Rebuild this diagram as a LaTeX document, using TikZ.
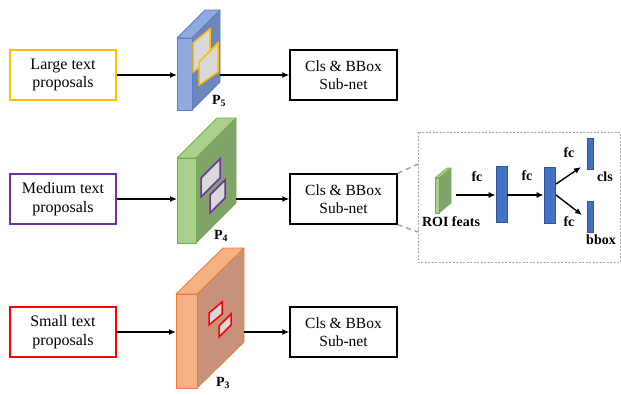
\documentclass[tikz,border=0pt]{standalone}
\usepackage{fontspec}
\setmainfont{Liberation Serif}
\usetikzlibrary{arrows.meta}
\definecolor{blueF}{HTML}{8FAADC}
\definecolor{blueS}{HTML}{6F86B8}
\definecolor{blueE}{HTML}{5B7FC7}
\definecolor{greenF}{HTML}{A9D18E}
\definecolor{greenS}{HTML}{80A46A}
\definecolor{greenE}{HTML}{70AD47}
\definecolor{orangeF}{HTML}{F4B183}
\definecolor{orangeS}{HTML}{C8927A}
\definecolor{orangeE}{HTML}{ED7D31}
\definecolor{sqfill}{HTML}{D9D9D9}
\definecolor{yel}{HTML}{FFC000}
\definecolor{purp}{HTML}{7030A0}
\definecolor{barF}{HTML}{4472C4}
\definecolor{barE}{HTML}{2F5597}
\definecolor{dgray}{HTML}{A6A6A6}
\begin{document}
\begin{tikzpicture}[x=1pt,y=-1pt,
  propbox/.style={draw=#1, line width=1.3pt, minimum width=106pt, minimum height=50pt,
    align=center, inner sep=0pt, font=\fontsize{16}{18.5}\selectfont},
  clsbox/.style={draw=black, line width=1.3pt, minimum width=107pt, minimum height=50pt,
    align=center, inner sep=0pt, font=\fontsize{15.5}{18}\selectfont},
  arr/.style={-{Latex[length=7pt,width=6pt]}, line width=1.4pt},
  lbl/.style={font=\fontsize{14}{16}\selectfont\bfseries, inner sep=0pt},
  bar/.style={draw=barE, fill=barF, line width=0.6pt, inner sep=0pt},
  sq/.style={fill=sqfill, line width=1.5pt, line join=miter}
]
\useasboundingbox (0,0) rectangle (621,394);

% proposal boxes
\node[propbox=yel]  (large)  at (63,75)  {Large text\\proposals};
\node[propbox=purp] (medium) at (63,199) {Medium text\\proposals};
\node[propbox=red]  (small)  at (63,332) {Small text\\proposals};

% cls boxes
\node[clsbox] (cls5) at (343.5,75)  {Cls \& BBox\\Sub-net};
\node[clsbox] (cls4) at (343.5,199) {Cls \& BBox\\Sub-net};
\node[clsbox] (cls3) at (343.5,332) {Cls \& BBox\\Sub-net};

% P5 block
\begin{scope}[line width=0.8pt, line join=round]
\fill[blueS, draw=blueE] (192,38) -- (220,10) -- (220,82) -- (192,110) -- cycle;
\fill[blueF, draw=blueE] (177,38) -- (205,10) -- (220,10) -- (192,38) -- cycle;
\fill[blueF, draw=blueE] (177,38) rectangle (192,110);
\end{scope}
\draw[sq, draw=yel] (193,43) -- (210,29) -- (210,59) -- (193,72) -- cycle;
\draw[sq, draw=yel] (199,62) -- (218,43) -- (218,72) -- (199,85) -- cycle;
\coordinate (p5in) at (177,75);
\coordinate (p5out) at (220,75);
\node[lbl] (p5lbl) at (219,101) {P$_{\mathbf 5}$};

% P4 block
\begin{scope}[line width=0.8pt, line join=round]
\fill[greenS, draw=greenE] (196,158) -- (236,118) -- (236,203) -- (196,243) -- cycle;
\fill[greenF, draw=greenE] (177,158) -- (217,118) -- (236,118) -- (196,158) -- cycle;
\fill[greenF, draw=greenE] (177,158) rectangle (196,243);
\end{scope}
\draw[sq, draw=purp] (201,178) -- (220,159) -- (220,178) -- (201,197) -- cycle;
\draw[sq, draw=purp] (210,195) -- (225,180) -- (225,198) -- (210,213) -- cycle;
\coordinate (p4in) at (177,199);
\coordinate (p4out) at (236,199);
\node[lbl] (p4lbl) at (221,236) {P$_{\mathbf 4}$};

% P3 block
\begin{scope}[line width=0.8pt, line join=round]
\fill[orangeS, draw=orangeE] (197,294) -- (244,248) -- (244,342) -- (197,388) -- cycle;
\fill[orangeF, draw=orangeE] (176,294) -- (223,248) -- (244,248) -- (197,294) -- cycle;
\fill[orangeF, draw=orangeE] (176,294) rectangle (197,388);
\end{scope}
\draw[sq, draw=red] (209,313) -- (222,302) -- (222,314) -- (209,325) -- cycle;
\draw[sq, draw=red] (219,326) -- (231,314) -- (231,325) -- (219,337) -- cycle;
\coordinate (p3in) at (176,332);
\coordinate (p3out) at (244,332);
\node[lbl] (p3lbl) at (223,383) {P$_{\mathbf 3}$};

% main arrows
\draw[arr] (large.east) -- (p5in);
\draw[arr] (p5out) -- (cls5.west);
\draw[arr] (medium.east) -- (p4in);
\draw[arr] (p4out) -- (cls4.west);
\draw[arr] (small.east) -- (p3in);
\draw[arr] (p3out) -- (cls3.west);

% detail panel
\draw[dgray, line width=0.8pt, dash pattern=on 2pt off 1.5pt] (418,132) rectangle (620,262);
\coordinate (pt) at (418,164);
\coordinate (pb) at (418,232);
\draw[dgray, line width=1.5pt, dash pattern=on 5pt off 4pt] (cls4.north east) -- (pt);
\draw[dgray, line width=1.5pt, dash pattern=on 5pt off 4pt] (cls4.south east) -- (pb);

% ROI block
\begin{scope}[line width=0.6pt, line join=round]
\fill[greenS, draw=greenE] (439,178) -- (451,168) -- (451,203) -- (439,213) -- cycle;
\fill[greenF, draw=greenE] (435,178) -- (447,168) -- (451,168) -- (439,178) -- cycle;
\fill[greenF, draw=greenE] (435,178) rectangle (439,213);
\end{scope}
\coordinate (roi) at (456,195);
\node[lbl] (roilbl) at (451,222) {ROI feats};

\node[bar, minimum width=11pt, minimum height=56pt] (b1) at (501.5,194) {};
\node[bar, minimum width=11pt, minimum height=56pt] (b2) at (549.5,195) {};
\node[bar, minimum width=6pt, minimum height=31pt] (bc) at (590,153.5) {};
\node[bar, minimum width=6pt, minimum height=31pt] (bb) at (590,216.5) {};

\coordinate (s1) at (556,184);
\coordinate (e1) at (581,167);
\coordinate (s2) at (556,195);
\coordinate (e2) at (582,215);
\draw[arr] (roi) -- (b1.west|-roi);
\draw[arr] (b1.east|-roi) -- (b2.west|-roi);
\draw[arr] (s1) -- (e1);
\draw[arr] (s2) -- (e2);

\node[lbl] (fc1) at (477,177) {fc};
\node[lbl] (fc2) at (527,176) {fc};
\node[lbl] (fc3) at (569,153) {fc};
\node[lbl] (fc4) at (569,222) {fc};
\node[lbl] (clslbl) at (605,177) {cls};
\node[lbl] (bboxlbl) at (601,240) {bbox};
\end{tikzpicture}
\end{document}
